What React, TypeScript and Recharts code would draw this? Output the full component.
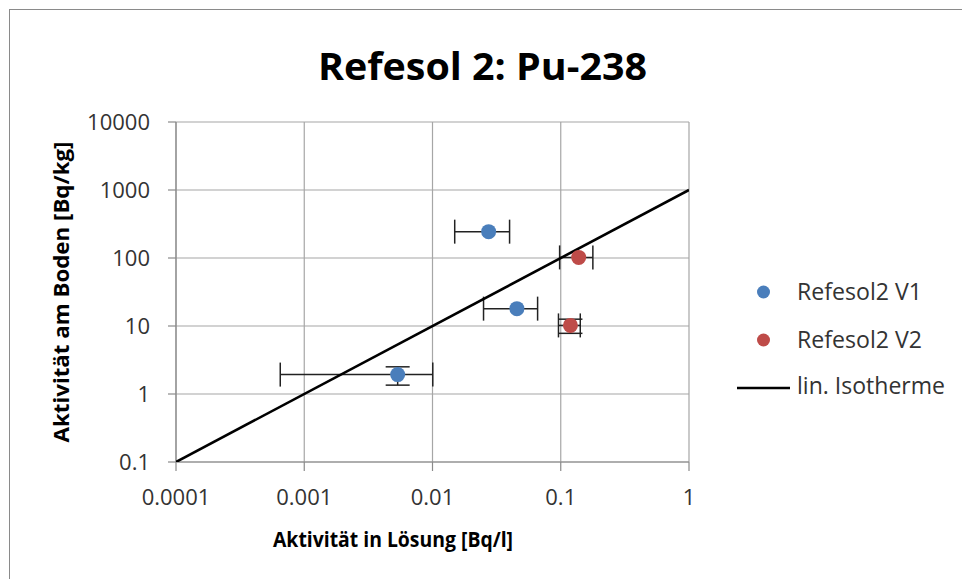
import { ScatterChart, Scatter, XAxis, YAxis, CartesianGrid, ErrorBar } from 'recharts';

// Refesol2 V1 (blue)
const v1X = [0.0274, 0.0455, 0.00535];
const v1Y = [244, 18, 1.93];
const v1XErr = [0.0125, 0.0205, 0.0047];
const v1YErr = [null, null, 0.58];

// Refesol2 V2 (red)
const v2X = [0.138, 0.119];
const v2Y = [102, 10.2];
const v2XErr = [0.04, 0.023];
const v2YErr = [null, 2.4];

// lin. Isotherme
const isoX = [0.0001, 1];
const isoY = [0.1, 1000];

const xTicks = [0.0001, 0.001, 0.01, 0.1, 1];
const yTicks = [0.1, 1, 10, 100, 1000, 10000];

const FONT = '"Open Sans", sans-serif';
const BLUE = '#4a7ebb';
const RED = '#be4b48';

const v1Data = v1X.map((x, i) => ({ x, y: v1Y[i], ex: v1XErr[i], ey: v1YErr[i] }));
const v2Data = v2X.map((x, i) => ({ x, y: v2Y[i], ex: v2XErr[i], ey: v2YErr[i] }));
const isoData = isoX.map((x, i) => ({ x, y: isoY[i] }));

const Dot = (props: any) => <circle cx={props.cx} cy={props.cy} r={7.5} fill={props.fill} />;
const NoDot = () => <g />;

const App = () => {
  const tick = { fill: '#333', fontSize: 22, fontFamily: FONT };
  const bar = { width: 12, stroke: '#222', strokeWidth: 1.5, isAnimationActive: false };
  return (
    <div style={{ position: 'absolute', left: 0, top: 0, width: 962, height: 579, overflow: 'hidden', background: '#fff' }}>
      {/* chart frame, only top and left edges show */}
      <div style={{ position: 'absolute', left: 9, top: 9, width: 1000, height: 600, borderTop: '1.5px solid #8a8a8a', borderLeft: '1.5px solid #8a8a8a' }} />
      <div style={{ position: 'absolute', left: 0, top: 0 }}>
        <ScatterChart width={962} height={579} margin={{ top: 122, right: 273, bottom: 57, left: 0 }}>
          <CartesianGrid stroke="#a6a6a6" strokeWidth={1.2} />
          <XAxis
            type="number"
            dataKey="x"
            scale="log"
            domain={[0.0001, 1]}
            ticks={xTicks}
            allowDataOverflow
            height={60}
            tick={tick}
            tickSize={9}
            tickMargin={18}
            tickFormatter={(v) => String(v)}
            axisLine={{ stroke: '#8a8a8a', strokeWidth: 1.2 }}
            tickLine={{ stroke: '#8a8a8a', strokeWidth: 1.2 }}
          />
          <YAxis
            type="number"
            dataKey="y"
            scale="log"
            domain={[0.1, 10000]}
            ticks={yTicks}
            allowDataOverflow
            width={176}
            tick={tick}
            tickSize={8}
            tickMargin={18}
            tickFormatter={(v) => String(v)}
            axisLine={{ stroke: '#8a8a8a', strokeWidth: 1.2 }}
            tickLine={{ stroke: '#8a8a8a', strokeWidth: 1.2 }}
          />
          <Scatter
            name="lin. Isotherme"
            data={isoData}
            line={{ stroke: '#000', strokeWidth: 2.6 }}
            shape={NoDot}
            isAnimationActive={false}
          />
          {/* error bars first so the markers sit on top of them */}
          <Scatter data={v1Data} shape={NoDot} isAnimationActive={false}>
            <ErrorBar dataKey="ex" direction="x" {...bar} />
            <ErrorBar dataKey="ey" direction="y" {...bar} />
          </Scatter>
          <Scatter data={v2Data} shape={NoDot} isAnimationActive={false}>
            <ErrorBar dataKey="ex" direction="x" {...bar} />
            <ErrorBar dataKey="ey" direction="y" {...bar} />
          </Scatter>
          <Scatter name="Refesol2 V1" data={v1Data} fill={BLUE} shape={Dot} isAnimationActive={false} />
          <Scatter name="Refesol2 V2" data={v2Data} fill={RED} shape={Dot} isAnimationActive={false} />
        </ScatterChart>
      </div>
      {/* title, axis titles and legend */}
      <svg width={962} height={579} style={{ position: 'absolute', left: 0, top: 0, pointerEvents: 'none' }}>
        <text x={482.5} y={80} textAnchor="middle" fontFamily={FONT} fontWeight="bold" fontSize={38} fill="#000" textLength={329} lengthAdjust="spacingAndGlyphs">
          Refesol 2: Pu-238
        </text>
        <text x={393} y={547} textAnchor="middle" fontFamily={FONT} fontWeight="bold" fontSize={22} fill="#000" textLength={240} lengthAdjust="spacingAndGlyphs">
          Aktivität in Lösung [Bq/l]
        </text>
        <text x={69} y={292} transform="rotate(-90, 69, 292)" textAnchor="middle" fontFamily={FONT} fontWeight="bold" fontSize={22} fill="#000" textLength={301} lengthAdjust="spacingAndGlyphs">
          Aktivität am Boden [Bq/kg]
        </text>

        <circle cx={763.5} cy={292} r={6.5} fill={BLUE} />
        <text x={797} y={299.5} fontFamily={FONT} fontSize={23} fill="#333" textLength={125} lengthAdjust="spacingAndGlyphs">Refesol2 V1</text>
        <circle cx={763.5} cy={340} r={6.5} fill={RED} />
        <text x={797} y={347.5} fontFamily={FONT} fontSize={23} fill="#333" textLength={125} lengthAdjust="spacingAndGlyphs">Refesol2 V2</text>
        <line x1={737} y1={388} x2={790} y2={388} stroke="#000" strokeWidth={2.6} />
        <text x={797} y={393.5} fontFamily={FONT} fontSize={23} fill="#333" textLength={148} lengthAdjust="spacingAndGlyphs">lin. Isotherme</text>
      </svg>
    </div>
  );
};

export default App;
